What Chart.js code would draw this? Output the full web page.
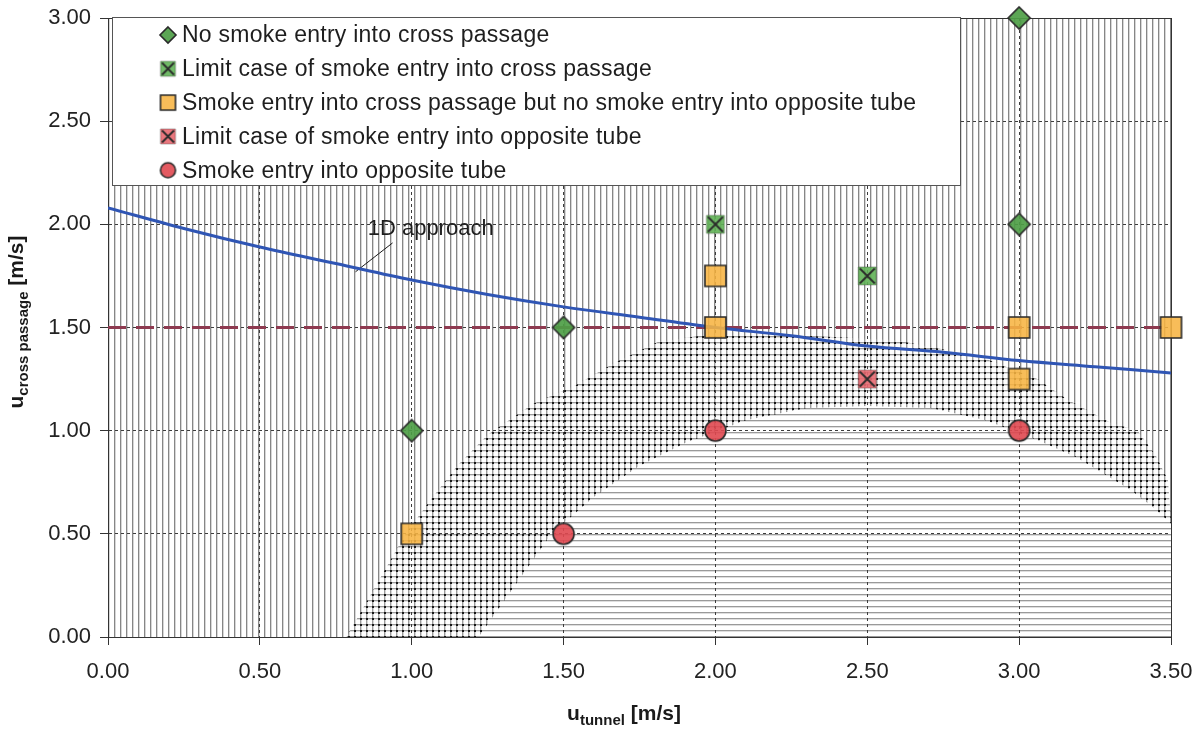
<!DOCTYPE html>
<html>
<head>
<meta charset="utf-8">
<script src="https://cdn.jsdelivr.net/npm/chart.js@4.4.1/dist/chart.umd.min.js"></script>
<style>
  html, body { margin: 0; padding: 0; background: #fff; }
  #wrap { width: 1199px; height: 731px; }
</style>
</head>
<body>
<div id="wrap"><canvas id="chart" width="1199" height="731"></canvas></div>
<script>
// ---- measured points (u_tunnel, u_cross passage) ----
const noEntryX = [1.0, 1.5, 3.0, 3.0];
const noEntryY = [1.0, 1.5, 2.0, 3.0];
const limitCrossX = [2.0, 2.5];
const limitCrossY = [2.0, 1.75];
const entryCrossX = [1.0, 2.0, 2.0, 3.0, 3.0, 3.5];
const entryCrossY = [0.5, 1.5, 1.75, 1.25, 1.5, 1.5];
const limitTubeX = [2.5];
const limitTubeY = [1.25];
const entryTubeX = [1.5, 2.0, 3.0];
const entryTubeY = [0.5, 1.0, 1.0];

const legendLabels = [
  'No smoke entry into cross passage',
  'Limit case of smoke entry into cross passage',
  'Smoke entry into cross passage but no smoke entry into opposite tube',
  'Limit case of smoke entry into opposite tube',
  'Smoke entry into opposite tube'
];

// ---- 1D approach curve ----
const approachX = [0, 0.25, 0.5, 0.75, 1.0, 1.25, 1.5, 1.75, 2.0, 2.25, 2.5, 2.75, 3.0, 3.25, 3.5];
const approachY = [2.08, 1.98, 1.89, 1.81, 1.73, 1.66, 1.60, 1.55, 1.50, 1.46, 1.41, 1.38, 1.34, 1.31, 1.28];
const approachLabel = '1D approach';
const labelAt = [0.855, 1.95];
const leaderX = [0.815, 0.937];
const leaderY = [1.77, 1.91];

// ---- 1.5 m/s limit ----
const limitX = [0, 3.5];
const limitY = [1.5, 1.5];

// ---- hatched regions ----
const baseX = [0, 3.5];
const baseY = [3, 3];
const denseX = [0.785, 0.98, 1.06, 1.15, 1.25, 1.40, 1.54, 1.67, 1.81, 1.95, 2.30, 2.59, 2.87, 3.06, 3.16, 3.30, 3.39, 3.45, 3.49, 3.50];
const denseY = [0, 0.50, 0.66, 0.83, 0.98, 1.13, 1.22, 1.33, 1.43, 1.46, 1.46, 1.44, 1.36, 1.25, 1.15, 1.04, 1.00, 0.88, 0.76, 0.56];
const innerX = [1.22, 1.46, 1.60, 1.75, 1.90, 2.10, 2.30, 2.50, 2.71, 2.89, 3.06, 3.19, 3.28, 3.37, 3.44, 3.50];
const innerY = [0, 0.50, 0.68, 0.83, 0.94, 1.05, 1.11, 1.12, 1.11, 1.05, 0.955, 0.87, 0.79, 0.71, 0.63, 0.55];

const FONT = "'Liberation Sans', Arial, Helvetica, sans-serif";
const zip = (xs, ys) => xs.map((x, i) => ({ x: x, y: ys[i] }));

const canvas = document.getElementById('chart');
const ctx0 = canvas.getContext('2d');

// hatch tiles
function makePattern(vertical, horizontal) {
  const s = 6;
  const c = document.createElement('canvas');
  c.width = s; c.height = s;
  const g = c.getContext('2d');
  g.fillStyle = '#fff';
  g.fillRect(0, 0, s, s);
  const dense = vertical && horizontal;
  if (vertical) {
    g.fillStyle = dense ? '#9a9a9a' : '#868686'; g.fillRect(0, 0, 1, s);
    g.fillStyle = '#d6d6d6'; g.fillRect(1, 0, 1, s);
  }
  if (horizontal) {
    g.fillStyle = '#9a9a9a'; g.fillRect(0, 0, s, 1);
    g.fillStyle = '#dedede'; g.fillRect(0, 1, s, 1);
  }
  if (dense) {
    g.fillStyle = '#161616'; g.fillRect(0, 0, 2, 2);
  }
  return ctx0.createPattern(c, 'repeat');
}

const vPattern = makePattern(true, false);
const xPattern = makePattern(true, true);
const hPattern = makePattern(false, true);

// marker images
function makeMarker(kind, size, fill) {
  const c = document.createElement('canvas');
  c.width = size + 4; c.height = size + 4;
  const g = c.getContext('2d');
  const m = c.width / 2, h = size / 2;
  g.fillStyle = fill;
  g.strokeStyle = '#2a2a2a';
  g.lineWidth = 1.6;
  g.beginPath();
  if (kind === 'diamond') {
    g.moveTo(m, m - h); g.lineTo(m + h, m); g.lineTo(m, m + h); g.lineTo(m - h, m); g.closePath();
  } else if (kind === 'circle') {
    g.arc(m, m, h, 0, Math.PI * 2);
  } else {
    g.rect(m - h, m - h, size, size);
  }
  g.fill();
  if (kind === 'cross') {
    g.strokeStyle = 'rgba(40,40,40,0.35)';
    g.lineWidth = 1;
    g.stroke();
    g.beginPath();
    g.moveTo(m - h + 1.5, m - h + 1.5); g.lineTo(m + h - 1.5, m + h - 1.5);
    g.moveTo(m + h - 1.5, m - h + 1.5); g.lineTo(m - h + 1.5, m + h - 1.5);
    g.strokeStyle = '#2a2a2a';
    g.lineWidth = 1.8;
  }
  g.stroke();
  return c;
}

const GREEN = 'rgba(78,158,70,0.92)';
const LGREEN = 'rgba(96,178,86,0.9)';
const ORANGE = 'rgba(247,180,66,0.88)';
const RED = 'rgba(224,72,80,0.9)';
const LRED = 'rgba(232,104,112,0.9)';

const markers = [
  makeMarker('diamond', 22, GREEN),
  makeMarker('cross', 18, LGREEN),
  makeMarker('square', 21, ORANGE),
  makeMarker('cross', 18, LRED),
  makeMarker('circle', 21, RED)
];
const legendMarkers = [
  makeMarker('diamond', 16, GREEN),
  makeMarker('cross', 15, LGREEN),
  makeMarker('square', 15, ORANGE),
  makeMarker('cross', 15, LRED),
  makeMarker('circle', 15, RED)
];

function region(xs, ys, pattern, order) {
  return {
    type: 'line',
    data: zip(xs, ys),
    backgroundColor: pattern,
    borderColor: 'rgba(0,0,0,0)',
    borderWidth: 0,
    pointRadius: 0,
    fill: 'origin',
    tension: 0,
    order: order
  };
}

function points(xs, ys, marker) {
  return {
    type: 'scatter',
    data: zip(xs, ys),
    pointStyle: marker,
    pointRadius: 10,
    clip: false,
    order: 0
  };
}

// frame on top/right + legend box + labels
const decorPlugin = {
  id: 'decor',
  beforeDatasetsDraw(chart) {
    const { ctx, chartArea: a } = chart;
    ctx.save();
    ctx.strokeStyle = '#333';
    ctx.lineWidth = 1;
    ctx.strokeRect(a.left + 0.5, a.top + 0.5, a.right - a.left, a.bottom - a.top);
    ctx.restore();
  },
  afterDraw(chart) {
    const { ctx, scales } = chart;
    ctx.save();

    // legend
    ctx.fillStyle = '#fff';
    ctx.fillRect(112, 17, 848, 168);
    ctx.strokeStyle = '#555';
    ctx.lineWidth = 1;
    ctx.strokeRect(112.5, 17.5, 848, 168);
    ctx.font = '23px ' + FONT;
    ctx.letterSpacing = '0.25px';
    ctx.fillStyle = '#1e1e1e';
    ctx.textBaseline = 'middle';
    ctx.textAlign = 'left';
    legendLabels.forEach((txt, i) => {
      const y = 35 + i * 33.8;
      const mk = legendMarkers[i];
      ctx.drawImage(mk, 168 - mk.width / 2, y - mk.height / 2);
      ctx.fillText(txt, 182, y + 1);
    });
    ctx.letterSpacing = '0px';

    // curve label
    ctx.font = '22px ' + FONT;
    ctx.textBaseline = 'alphabetic';
    ctx.fillText(approachLabel, scales.x.getPixelForValue(labelAt[0]), scales.y.getPixelForValue(labelAt[1]));

    // axis titles with subscripts
    function title(main, sub, unit) {
      ctx.font = 'bold 21px ' + FONT;
      const w1 = ctx.measureText(main).width;
      const w3 = ctx.measureText(unit).width;
      ctx.font = 'bold 15px ' + FONT;
      const w2 = ctx.measureText(sub).width;
      let x = -(w1 + w2 + w3) / 2;
      ctx.font = 'bold 21px ' + FONT;
      ctx.fillText(main, x, 0); x += w1;
      ctx.font = 'bold 15px ' + FONT;
      ctx.fillText(sub, x, 5); x += w2;
      ctx.font = 'bold 21px ' + FONT;
      ctx.fillText(unit, x, 0);
    }
    ctx.fillStyle = '#1a1a1a';
    ctx.save();
    ctx.translate(624, 720);
    title('u', 'tunnel', ' [m/s]');
    ctx.restore();
    ctx.save();
    ctx.translate(23, 322);
    ctx.rotate(-Math.PI / 2);
    title('u', 'cross passage', ' [m/s]');
    ctx.restore();

    ctx.restore();
  }
};

const tickFont = { family: FONT, size: 22 };

new Chart(canvas, {
  type: 'scatter',
  data: {
    datasets: [
      points(noEntryX, noEntryY, markers[0]),
      points(limitCrossX, limitCrossY, markers[1]),
      points(entryCrossX, entryCrossY, markers[2]),
      points(limitTubeX, limitTubeY, markers[3]),
      points(entryTubeX, entryTubeY, markers[4]),
      {
        type: 'line',
        data: zip(approachX, approachY),
        borderColor: '#2f55b4',
        borderWidth: 3,
        pointRadius: 0,
        tension: 0.35,
        fill: false,
        order: 4
      },
      {
        type: 'line',
        data: zip(leaderX, leaderY),
        borderColor: '#1a1a1a',
        borderWidth: 1,
        pointRadius: 0,
        fill: false,
        order: 4
      },
      {
        type: 'line',
        data: zip(limitX, limitY),
        borderColor: '#8e3a50',
        borderWidth: 3,
        borderDash: [18, 10],
        pointRadius: 0,
        fill: false,
        order: 5
      },
      region(innerX, innerY, hPattern, 10),
      region(denseX, denseY, xPattern, 20),
      region(baseX, baseY, vPattern, 30)
    ]
  },
  options: {
    responsive: false,
    animation: false,
    events: [],
    layout: { padding: { top: 18, right: 28, bottom: 0, left: 0 } },
    plugins: {
      legend: { display: false },
      tooltip: { enabled: false },
      filler: { drawTime: 'beforeDraw' }
    },
    scales: {
      x: {
        type: 'linear',
        min: 0,
        max: 3.5,
        afterFit: (s) => { s.height = 94; s.paddingLeft = 0; s.paddingRight = 0; },
        ticks: {
          stepSize: 0.5,
          font: tickFont,
          color: '#222',
          padding: 14,
          maxRotation: 0,
          callback: (v) => v.toFixed(2)
        },
        grid: { color: '#3c3c3c', lineWidth: 1, tickLength: 8, tickColor: '#333' },
        border: { color: '#333', width: 1, dash: [3, 3] }
      },
      y: {
        type: 'linear',
        min: 0,
        max: 3,
        afterFit: (s) => { s.width = 108; s.paddingTop = 0; s.paddingBottom = 0; },
        ticks: {
          stepSize: 0.5,
          font: tickFont,
          color: '#222',
          padding: 9,
          callback: (v) => v.toFixed(2)
        },
        grid: { color: '#3c3c3c', lineWidth: 1, tickLength: 8, tickColor: '#333' },
        border: { color: '#333', width: 1, dash: [3, 3] }
      }
    }
  },
  plugins: [decorPlugin]
});
</script>
</body>
</html>
